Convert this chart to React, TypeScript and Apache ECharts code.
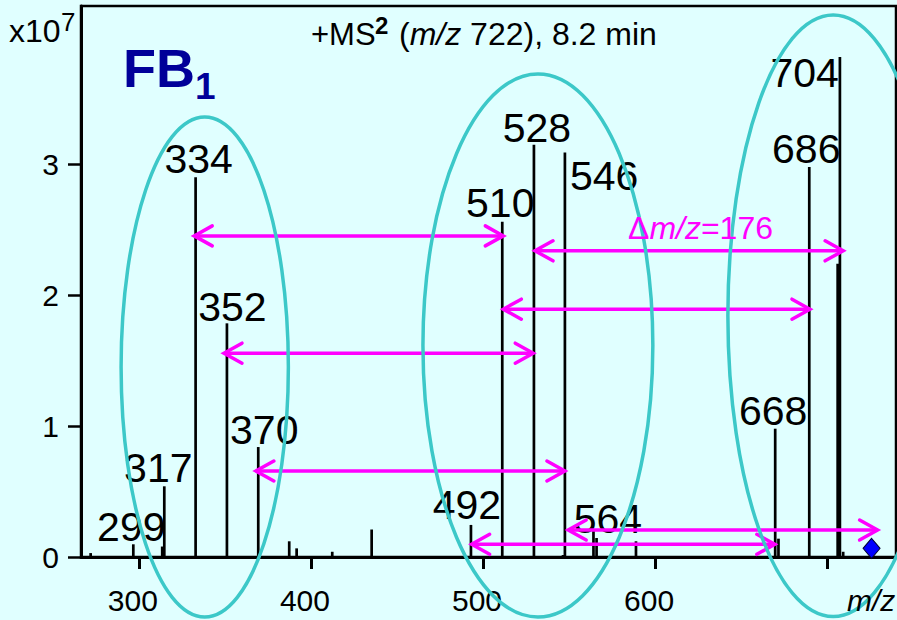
import React, { useEffect, useRef } from "react";
import * as echarts from "echarts";

// ---- data ----
const peakMz = [272.0, 296.8, 313.6, 314.8, 333.0, 351.2, 369.4, 387.4, 391.7, 412.4, 435.3, 493.0, 511.2, 529.6, 546.5, 547.6, 564.2, 566.0, 588.9, 669.8, 671.7, 689.6, 706.1, 707.4, 709.3];
const peakIntensity = [0.03, 0.097, 0.08, 0.54, 2.9, 1.785, 0.84, 0.12, 0.066, 0.04, 0.21, 0.245, 2.56, 3.15, 0.015, 3.09, 0.21, 0.145, 0.12, 0.98, 0.14, 2.98, 2.24, 3.82, 0.04];

const labelTexts = ["299", "317", "334", "352", "370", "492", "510", "528", "546", "564", "668", "686", "704"];
const labelMz = [296.8, 314.8, 333.0, 351.2, 369.4, 493.0, 511.2, 529.6, 547.6, 564.2, 669.8, 689.6, 707.4];

const arrowFrom = [332.2, 530.2, 511.8, 349.5, 368.0, 549.5, 493.4];
const arrowTo = [511.8, 709.3, 690.0, 529.2, 547.6, 729.3, 669.6];
const arrowLevel = [2.453, 2.339, 1.893, 1.557, 0.657, 0.206, 0.097];

const ellipseCx = [338.3, 531.9, 703.5];
const ellipseCy = [1.4515, 1.6158, 1.8426];
const ellipseRx = [48.6, 66.8, 61.2];
const ellipseRy = [1.91, 2.074, 2.298];

const precursorMz = [725.8];
const precursorY = [0.066];

const xTickValues = [300, 400, 500, 600, 700];
const xLabelValues = [300, 400, 500, 600];
const yTickValues = [0, 1, 2, 3];

// ---- styling / placement (pixels) ----
const FONT = "'Liberation Sans', Arial, Helvetica, sans-serif";
const labelPlacement: Record<string, { dx: number; dy: number; align: string }> = {
  "299": { dx: -2, dy: -17, align: "center" },
  "317": { dx: -6, dy: -18, align: "center" },
  "334": { dx: 3, dy: -18.5, align: "center" },
  "352": { dx: 5.5, dy: -16.5, align: "center" },
  "370": { dx: 6, dy: -17, align: "center" },
  "492": { dx: -4, dy: -19.5, align: "center" },
  "510": { dx: -2, dy: -19, align: "center" },
  "528": { dx: 3, dy: -16.5, align: "center" },
  "546": { dx: 5, dy: 23.7, align: "left" },
  "564": { dx: 14.5, dy: -11, align: "center" },
  "668": { dx: -2, dy: -18, align: "center" },
  "686": { dx: -3, dy: -18, align: "center" },
  "704": { dx: -1, dy: 16.3, align: "right" },
};

function intensityAt(mz: number): number {
  let best = 0;
  let bd = Infinity;
  peakMz.forEach((m, i) => {
    const d = Math.abs(m - mz);
    if (d < bd) {
      bd = d;
      best = i;
    }
  });
  return peakIntensity[best];
}

function txt(x: number, y: number, text: string, extra: any) {
  return {
    type: "text",
    x,
    y,
    z: 10,
    style: Object.assign(
      {
        text,
        fontFamily: FONT,
        fill: "#000",
        align: "left",
        verticalAlign: "middle",
      },
      extra
    ),
  };
}

export default function App() {
  const ref = useRef<HTMLDivElement>(null);

  useEffect(() => {
    if (!ref.current) return;
    const chart = echarts.init(ref.current, undefined, { renderer: "svg" });

    const MAGENTA = "#FF00FF";
    const TEAL = "#3CC8C8";
    const NAVY = "#000099";

    const option: any = {
      animation: false,
      backgroundColor: "#E0FFFF",
      grid: {
        left: 81,
        right: 1,
        top: 6,
        bottom: 63,
        show: true,
        borderColor: "#000",
        borderWidth: 2.5,
        backgroundColor: "transparent",
      },
      xAxis: {
        type: "value",
        min: 266.4,
        max: 740,
        axisLine: { onZero: false, lineStyle: { color: "#000", width: 3 } },
        axisTick: {
          show: true,
          length: 12,
          lineStyle: { color: "#000", width: 3 },
          customValues: xTickValues,
        },
        axisLabel: {
          customValues: xLabelValues,
          fontSize: 30,
          fontFamily: FONT,
          color: "#000",
          margin: 28,
          padding: [0, 12, 0, 0],
        },
        splitLine: { show: false },
      },
      yAxis: {
        type: "value",
        min: 0,
        max: 4.209,
        axisLine: { show: true, onZero: false, lineStyle: { color: "#000", width: 3 } },
        axisTick: {
          show: true,
          length: 13,
          lineStyle: { color: "#000", width: 2.5 },
          customValues: yTickValues,
        },
        axisLabel: {
          customValues: yTickValues,
          fontSize: 30,
          fontFamily: FONT,
          color: "#000",
          margin: 22,
        },
        splitLine: { show: false },
      },
      series: [
        {
          type: "custom",
          name: "peaks",
          clip: false,
          z: 2,
          encode: { x: 0, y: 1 },
          data: peakMz.map((m, i) => [m, peakIntensity[i]]),
          renderItem: (params: any, api: any) => {
            const x = api.value(0);
            const y = api.value(1);
            const top = api.coord([x, y]);
            const base = api.coord([x, 0]);
            return {
              type: "line",
              shape: { x1: top[0], y1: base[1], x2: top[0], y2: top[1] },
              style: { stroke: "#000", lineWidth: 2.7 },
            };
          },
        },
        {
          type: "custom",
          name: "labels",
          clip: false,
          z: 3,
          encode: { x: 0, y: 1 },
          data: labelMz.map((m) => [m, intensityAt(m)]),
          renderItem: (params: any, api: any) => {
            const t = labelTexts[params.dataIndex];
            const pl = labelPlacement[t];
            const p = api.coord([api.value(0), api.value(1)]);
            return {
              type: "text",
              x: p[0] + pl.dx,
              y: p[1] + pl.dy,
              style: {
                text: t,
                fontSize: 41,
                fontFamily: FONT,
                fill: "#000",
                align: pl.align,
                textAlign: pl.align,
                verticalAlign: "middle",
                textVerticalAlign: "middle",
              },
            };
          },
        },
        {
          type: "custom",
          name: "arrows",
          clip: false,
          z: 4,
          encode: { x: [0, 1], y: 2 },
          data: arrowFrom.map((f, i) => [f, arrowTo[i], arrowLevel[i]]),
          renderItem: (params: any, api: any) => {
            const p1 = api.coord([api.value(0), api.value(2)]);
            const p2 = api.coord([api.value(1), api.value(2)]);
            const y = p1[1];
            const hl = 18;
            const hh = 10;
            const st = { stroke: MAGENTA, lineWidth: 3.5, fill: "none", lineCap: "round", lineJoin: "miter" };
            return {
              type: "group",
              children: [
                { type: "line", shape: { x1: p1[0] + 1, y1: y, x2: p2[0] - 1, y2: y }, style: st },
                {
                  type: "polyline",
                  shape: { points: [[p1[0] + hl, y - hh], [p1[0], y], [p1[0] + hl, y + hh]] },
                  style: st,
                },
                {
                  type: "polyline",
                  shape: { points: [[p2[0] - hl, y - hh], [p2[0], y], [p2[0] - hl, y + hh]] },
                  style: st,
                },
              ],
            };
          },
        },
        {
          type: "scatter",
          name: "precursor",
          z: 5,
          symbol: "diamond",
          symbolSize: [17, 20],
          itemStyle: { color: "#0000FF", borderColor: "#000033", borderWidth: 1, opacity: 1 },
          data: precursorMz.map((m, i) => [m, precursorY[i]]),
        },
        {
          type: "custom",
          name: "groups",
          clip: false,
          z: 6,
          encode: { x: 0, y: 1 },
          data: ellipseCx.map((c, i) => [c, ellipseCy[i], ellipseRx[i], ellipseRy[i]]),
          renderItem: (params: any, api: any) => {
            const c = api.coord([api.value(0), api.value(1)]);
            const s = api.size([api.value(2), api.value(3)]);
            return {
              type: "ellipse",
              shape: { cx: c[0], cy: c[1], rx: s[0], ry: s[1] },
              style: { fill: "none", stroke: TEAL, lineWidth: 3.5 },
            };
          },
        },
      ],
      graphic: [
        // title
        txt(311, 34, "+MS", { fontSize: 31 }),
        txt(375, 25.5, "2", { fontSize: 24, fontWeight: "bold" }),
        txt(399, 34, "({i|m/z} 722), 8.2 min", {
          fontSize: 32,
          rich: { i: { fontSize: 32, fontStyle: "italic", fontFamily: FONT, fill: "#000" } },
        }),
        // exponent
        txt(9, 31, "x10", { fontSize: 32 }),
        txt(61, 22, "7", { fontSize: 26 }),
        // compound name
        txt(123, 68, "FB", { fontSize: 54, fontWeight: "bold", fill: NAVY }),
        txt(195, 86, "1", { fontSize: 37, fontWeight: "bold", fill: NAVY }),
        // delta annotation
        txt(628, 228, "Δ{i|m/z}=176", {
          fontSize: 32,
          fill: MAGENTA,
          rich: { i: { fontSize: 32, fontStyle: "italic", fontFamily: FONT, fill: MAGENTA } },
        }),
        // axis name
        txt(847, 600, "m/z", { fontSize: 30, fontStyle: "italic" }),
      ],
    };

    chart.setOption(option);
    return () => chart.dispose();
  }, []);

  return (
    <div
      ref={ref}
      style={{ position: "fixed", left: 0, top: 0, width: 897, height: 620, background: "#E0FFFF" }}
    />
  );
}
